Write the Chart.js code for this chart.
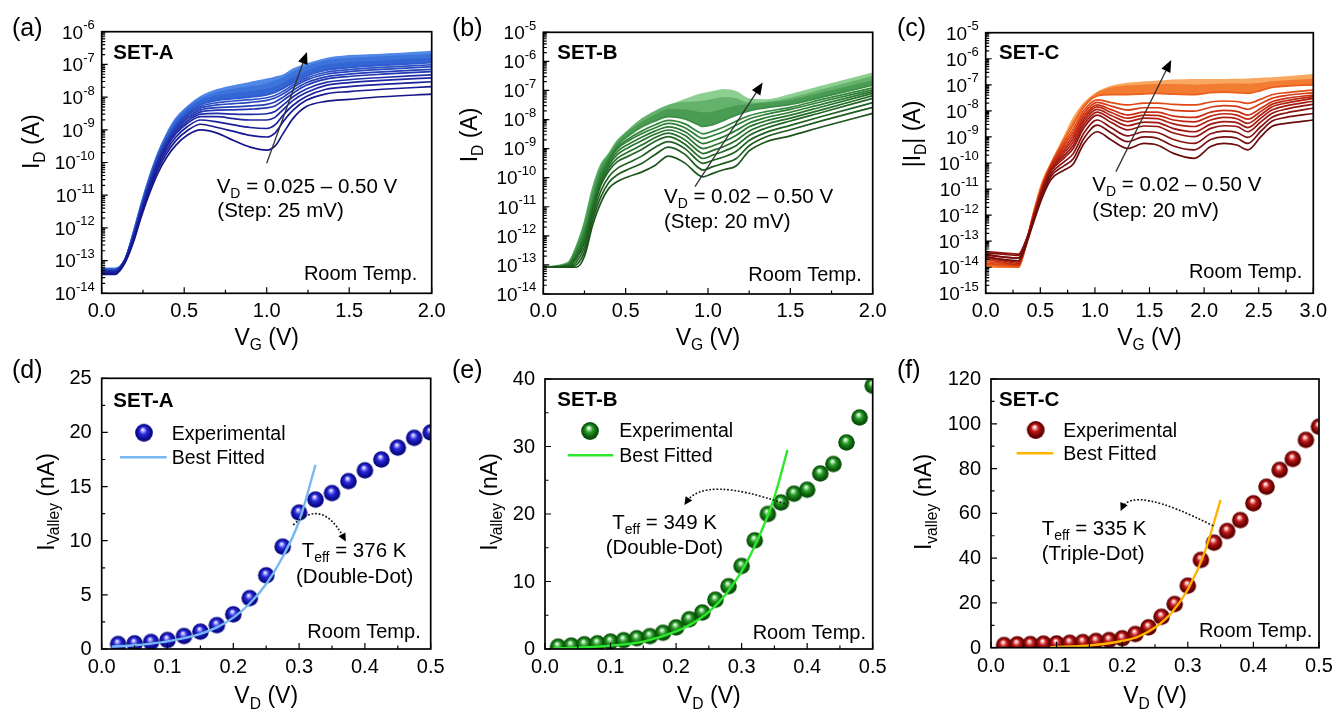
<!DOCTYPE html>
<html><head><meta charset="utf-8">
<script src="https://cdn.jsdelivr.net/npm/chart.js@4.4.1/dist/chart.umd.min.js"></script>
<style>
html,body{margin:0;padding:0;background:#fff;width:1333px;height:709px;overflow:hidden}
canvas{position:absolute;display:block;left:0;top:0}
</style></head><body>
<script>
// ===================== DATA =====================
// ---- (a) SET-A : log10(I_D / A) vs V_G, one array per V_D ----
const VG_A = [0,0.08,0.14,0.19,0.24,0.29,0.34,0.39,0.45,0.52,0.6,0.7,0.8,0.9,1.0,1.05,1.1,1.16,1.24,1.36,1.5,1.7,2.0];
const VD_A = [0.025,0.05,0.075,0.1,0.125,0.15,0.175,0.2,0.225,0.25,0.325,0.4,0.5];
const A_025 = [-13.42,-13.42,-13.08,-12.47,-11.66,-10.94,-10.33,-9.87,-9.47,-9.16,-9.0,-9.1,-9.33,-9.53,-9.62,-9.5,-9.11,-8.65,-8.29,-8.13,-8.07,-7.99,-7.91];
const A_050 = [-13.38,-13.38,-13.05,-12.42,-11.6,-10.85,-10.22,-9.75,-9.33,-9.02,-8.83,-8.93,-9.05,-9.17,-9.22,-9.1,-8.75,-8.4,-8.1,-7.9,-7.83,-7.76,-7.68];
const A_075 = [-13.36,-13.36,-13.02,-12.38,-11.55,-10.78,-10.13,-9.65,-9.22,-8.9,-8.7,-8.76,-8.85,-8.93,-8.96,-8.85,-8.55,-8.25,-7.98,-7.76,-7.68,-7.61,-7.53];
const A_100 = [-13.35,-13.35,-13.0,-12.35,-11.5,-10.72,-10.05,-9.56,-9.12,-8.8,-8.6,-8.6,-8.66,-8.7,-8.7,-8.62,-8.38,-8.1,-7.86,-7.64,-7.56,-7.49,-7.41];
const A_125 = [-13.34,-13.34,-13.0,-12.33,-11.47,-10.68,-10.0,-9.5,-9.06,-8.73,-8.52,-8.5,-8.52,-8.53,-8.51,-8.44,-8.24,-7.99,-7.75,-7.55,-7.47,-7.4,-7.32];
const A_150 = [-13.32,-13.32,-12.99,-12.3,-11.43,-10.63,-9.95,-9.45,-9.0,-8.66,-8.45,-8.4,-8.39,-8.37,-8.33,-8.27,-8.1,-7.88,-7.64,-7.45,-7.37,-7.3,-7.22];
const A_175 = [-13.31,-13.31,-12.98,-12.28,-11.4,-10.6,-9.91,-9.4,-8.95,-8.6,-8.39,-8.32,-8.3,-8.27,-8.22,-8.15,-8.0,-7.79,-7.56,-7.38,-7.3,-7.23,-7.15];
const A_200 = [-13.3,-13.3,-12.98,-12.26,-11.37,-10.57,-9.88,-9.36,-8.9,-8.54,-8.33,-8.24,-8.2,-8.16,-8.1,-8.03,-7.9,-7.7,-7.48,-7.3,-7.22,-7.15,-7.07];
const A_225 = [-13.29,-13.29,-12.98,-12.25,-11.35,-10.55,-9.86,-9.33,-8.87,-8.5,-8.28,-8.17,-8.12,-8.08,-8.02,-7.95,-7.82,-7.63,-7.42,-7.24,-7.16,-7.09,-7.01];
const A_250 = [-13.28,-13.28,-12.98,-12.23,-11.33,-10.52,-9.83,-9.3,-8.83,-8.46,-8.23,-8.1,-8.05,-8.0,-7.93,-7.86,-7.74,-7.56,-7.36,-7.18,-7.1,-7.03,-6.95];
const A_325 = [-13.26,-13.26,-12.98,-12.2,-11.3,-10.48,-9.78,-9.23,-8.75,-8.38,-8.12,-7.97,-7.9,-7.84,-7.77,-7.7,-7.58,-7.41,-7.23,-7.03,-6.96,-6.9,-6.82];
const A_400 = [-13.25,-13.25,-12.98,-12.18,-11.27,-10.45,-9.75,-9.2,-8.7,-8.33,-8.05,-7.87,-7.77,-7.7,-7.61,-7.52,-7.42,-7.25,-7.08,-6.9,-6.83,-6.78,-6.71];
const A_500 = [-13.24,-13.24,-12.98,-12.17,-11.25,-10.43,-9.72,-9.16,-8.65,-8.29,-7.99,-7.78,-7.66,-7.56,-7.46,-7.4,-7.33,-7.15,-7.0,-6.83,-6.74,-6.7,-6.61];

// ---- (b) SET-B ----
const VG_B = [0,0.15,0.2,0.25,0.3,0.35,0.4,0.45,0.52,0.6,0.68,0.76,0.86,0.94,0.97,1.03,1.1,1.17,1.25,1.35,1.5,1.7,2.0];
const VD_B = [0.02,0.04,0.06,0.08,0.10,0.12,0.14,0.16,0.18,0.22,0.3,0.4,0.5];
const B_02 = [-13.08,-13.08,-13.08,-12.7,-11.62,-10.85,-10.35,-10.13,-9.96,-9.8,-9.57,-9.26,-9.5,-9.9,-9.97,-9.85,-9.72,-9.6,-9.08,-8.77,-8.56,-8.24,-7.79];
const B_04 = [-13.08,-13.08,-13.0,-12.55,-11.45,-10.65,-10.15,-9.9,-9.7,-9.5,-9.2,-8.95,-9.2,-9.65,-9.74,-9.62,-9.5,-9.35,-8.9,-8.6,-8.35,-8.03,-7.58];
const B_06 = [-13.08,-13.06,-12.9,-12.4,-11.3,-10.45,-9.95,-9.68,-9.48,-9.25,-8.95,-8.76,-9.0,-9.42,-9.51,-9.4,-9.28,-9.1,-8.72,-8.45,-8.2,-7.88,-7.42];
const B_08 = [-13.08,-13.04,-12.8,-12.25,-11.15,-10.25,-9.75,-9.45,-9.25,-9.02,-8.75,-8.59,-8.85,-9.25,-9.34,-9.22,-9.08,-8.9,-8.55,-8.3,-8.05,-7.74,-7.27];
const B_10 = [-13.08,-13.03,-12.75,-12.18,-11.1,-10.18,-9.65,-9.33,-9.1,-8.87,-8.62,-8.47,-8.7,-9.08,-9.17,-9.06,-8.92,-8.72,-8.4,-8.17,-7.95,-7.65,-7.18];
const B_12 = [-13.08,-13.02,-12.7,-12.1,-11.05,-10.1,-9.55,-9.2,-8.95,-8.72,-8.5,-8.36,-8.55,-8.92,-9.0,-8.9,-8.75,-8.55,-8.25,-8.05,-7.85,-7.55,-7.1];
const B_14 = [-13.08,-13.01,-12.65,-12.03,-10.98,-10.02,-9.48,-9.1,-8.84,-8.6,-8.39,-8.25,-8.42,-8.75,-8.83,-8.73,-8.58,-8.38,-8.12,-7.94,-7.75,-7.46,-7.04];
const B_16 = [-13.08,-13.0,-12.6,-11.95,-10.9,-9.95,-9.4,-9.0,-8.72,-8.48,-8.28,-8.13,-8.28,-8.58,-8.65,-8.55,-8.4,-8.2,-7.98,-7.82,-7.65,-7.37,-6.98];
const B_18 = [-13.08,-12.99,-12.56,-11.89,-10.84,-9.89,-9.36,-8.95,-8.65,-8.39,-8.18,-8.03,-8.15,-8.42,-8.49,-8.4,-8.25,-8.06,-7.87,-7.73,-7.58,-7.3,-6.91];
const B_22 = [-13.08,-12.98,-12.5,-11.8,-10.75,-9.8,-9.3,-8.88,-8.55,-8.25,-8.05,-7.9,-7.98,-8.18,-8.24,-8.18,-8.02,-7.85,-7.7,-7.6,-7.48,-7.22,-6.82];
const B_30 = [-13.08,-12.95,-12.4,-11.6,-10.5,-9.65,-9.22,-8.8,-8.42,-8.1,-7.86,-7.67,-7.68,-7.76,-7.79,-7.75,-7.65,-7.55,-7.5,-7.45,-7.35,-7.08,-6.68];
const B_40 = [-13.08,-12.92,-12.38,-11.52,-10.35,-9.55,-9.18,-8.75,-8.36,-7.98,-7.72,-7.52,-7.42,-7.4,-7.38,-7.32,-7.25,-7.3,-7.45,-7.42,-7.28,-6.98,-6.53];
const B_50 = [-13.08,-12.95,-12.45,-11.6,-10.65,-9.7,-9.16,-8.72,-8.4,-8.1,-7.8,-7.55,-7.32,-7.16,-7.12,-7.05,-6.98,-7.05,-7.3,-7.33,-7.15,-6.85,-6.41];

// ---- (c) SET-C ----
const VG_C = [0,0.15,0.3,0.34,0.44,0.52,0.6,0.72,0.8,0.9,1.02,1.15,1.3,1.45,1.57,1.72,1.91,2.06,2.18,2.3,2.4,2.52,2.62,2.75,3.0];
const VD_C = [0.02,0.04,0.06,0.08,0.10,0.12,0.14,0.16,0.19,0.22,0.3,0.4,0.5];
const C_02 = [-13.6,-13.7,-13.75,-13.5,-12.25,-11.3,-10.62,-10.27,-10.05,-9.25,-8.8,-9.12,-9.44,-9.25,-9.31,-9.63,-9.82,-9.37,-9.25,-9.31,-9.5,-8.99,-8.6,-8.48,-8.35];
const C_04 = [-13.5,-13.6,-13.65,-13.4,-12.2,-11.2,-10.5,-10.1,-9.85,-9.05,-8.55,-8.85,-9.18,-9.0,-9.05,-9.35,-9.5,-9.1,-9.0,-9.05,-9.25,-8.78,-8.4,-8.25,-8.1];
const C_06 = [-13.45,-13.5,-13.55,-13.3,-12.15,-11.1,-10.4,-9.95,-9.65,-8.85,-8.35,-8.65,-8.96,-8.8,-8.83,-9.1,-9.25,-8.88,-8.78,-8.83,-9.02,-8.6,-8.25,-8.08,-7.9];
const C_08 = [-13.4,-13.45,-13.5,-13.25,-12.1,-11.0,-10.3,-9.8,-9.45,-8.65,-8.16,-8.45,-8.73,-8.58,-8.6,-8.85,-8.99,-8.67,-8.57,-8.6,-8.8,-8.42,-8.1,-7.93,-7.74];
const C_10 = [-13.55,-13.6,-13.65,-13.35,-12.08,-10.98,-10.25,-9.7,-9.33,-8.52,-8.05,-8.31,-8.57,-8.43,-8.45,-8.68,-8.8,-8.51,-8.41,-8.45,-8.64,-8.28,-7.97,-7.81,-7.63];
const C_12 = [-13.6,-13.7,-13.8,-13.4,-12.05,-10.95,-10.2,-9.6,-9.2,-8.4,-7.94,-8.18,-8.41,-8.28,-8.3,-8.5,-8.6,-8.35,-8.25,-8.3,-8.48,-8.15,-7.85,-7.7,-7.52];
const C_14 = [-13.65,-13.75,-13.85,-13.45,-12.02,-10.92,-10.15,-9.5,-9.07,-8.3,-7.85,-8.06,-8.28,-8.16,-8.17,-8.35,-8.42,-8.2,-8.11,-8.16,-8.32,-8.02,-7.75,-7.61,-7.45];
const C_16 = [-13.7,-13.8,-13.9,-13.5,-12.0,-10.9,-10.1,-9.4,-8.95,-8.2,-7.77,-7.95,-8.16,-8.05,-8.05,-8.2,-8.25,-8.05,-7.98,-8.02,-8.16,-7.9,-7.65,-7.52,-7.39];
const C_19 = [-13.78,-13.85,-13.92,-13.52,-11.98,-10.88,-10.08,-9.3,-8.83,-8.09,-7.67,-7.82,-7.97,-7.88,-7.88,-7.98,-8.01,-7.86,-7.8,-7.83,-7.94,-7.72,-7.52,-7.41,-7.3];
const C_22 = [-13.85,-13.9,-13.95,-13.55,-11.95,-10.85,-10.05,-9.2,-8.7,-7.98,-7.58,-7.68,-7.77,-7.7,-7.7,-7.75,-7.77,-7.66,-7.62,-7.64,-7.71,-7.55,-7.38,-7.3,-7.2];
const C_30 = [-13.9,-13.95,-14.0,-13.6,-11.9,-10.8,-10.02,-9.1,-8.55,-7.85,-7.43,-7.38,-7.38,-7.35,-7.33,-7.36,-7.38,-7.3,-7.28,-7.3,-7.33,-7.22,-7.1,-7.05,-7.0];
const C_40 = [-13.95,-14.0,-14.0,-13.6,-11.88,-10.75,-10.01,-9.05,-8.45,-7.78,-7.33,-7.13,-7.05,-7.02,-7.0,-7.0,-7.02,-7.0,-6.98,-6.98,-6.99,-6.95,-6.9,-6.86,-6.8];
const C_50 = [-14.0,-14.0,-14.0,-13.6,-11.86,-10.7,-10.0,-8.99,-8.3,-7.71,-7.3,-7.07,-6.95,-6.9,-6.87,-6.83,-6.81,-6.81,-6.81,-6.8,-6.79,-6.76,-6.74,-6.7,-6.62];

// ---- (d) SET-A valley current (nA) ----
const VD_D = [0.025,0.05,0.075,0.1,0.125,0.15,0.175,0.2,0.225,0.25,0.275,0.3,0.325,0.35,0.375,0.4,0.425,0.45,0.475,0.5];
const IV_D = [0.46,0.52,0.65,0.83,1.2,1.6,2.2,3.2,4.7,6.8,9.45,12.6,13.8,14.4,15.5,16.5,17.5,18.6,19.5,20.0];
const FIT_D_X = [0.015,0.05,0.075,0.1,0.125,0.15,0.175,0.2,0.225,0.25,0.275,0.3,0.325];
const FIT_D_Y = [0.22,0.35,0.5,0.7,1.0,1.4,2.0,2.9,4.2,6.0,8.5,11.8,17.0];

// ---- (e) SET-B ----
const VD_E = [0.02,0.04,0.06,0.08,0.1,0.12,0.14,0.16,0.18,0.2,0.22,0.24,0.26,0.28,0.3,0.32,0.34,0.36,0.38,0.4,0.42,0.44,0.46,0.48,0.5];
const IV_E = [0.35,0.5,0.7,0.85,1.1,1.3,1.6,1.9,2.4,3.2,4.4,5.4,7.3,9.3,12.3,16.1,20.0,21.7,23.0,23.6,26.0,27.4,30.6,34.3,39.0];
const FIT_E_X = [0.013,0.05,0.1,0.15,0.2,0.225,0.25,0.275,0.3,0.325,0.35,0.37];
const FIT_E_Y = [0.08,0.2,0.5,1.1,2.6,3.8,5.5,8.0,11.5,16.3,22.5,29.5];

// ---- (f) SET-C ----
const VD_F = [0.02,0.04,0.06,0.08,0.1,0.12,0.14,0.16,0.18,0.2,0.22,0.24,0.26,0.28,0.3,0.32,0.34,0.36,0.38,0.4,0.42,0.44,0.46,0.48,0.5];
const IV_F = [1.2,1.5,1.6,1.8,1.9,2.2,2.5,3.0,3.4,4.2,6.1,9.1,13.8,19.5,27.7,39.2,46.9,52.1,57.0,64.5,71.9,79.4,84.3,92.8,98.7];
const FIT_F_X = [0.09,0.15,0.2,0.225,0.25,0.275,0.3,0.325,0.35];
const FIT_F_Y = [0.25,1.0,3.0,5.0,9.0,15.5,26.0,42.0,66.0];

// ---- tick labels ----
const XT_AB = [0,0.5,1.0,1.5,2.0];
const XT_C = [0,0.5,1.0,1.5,2.0,2.5,3.0];
const YEXP_A = [-14,-13,-12,-11,-10,-9,-8,-7,-6];
const YEXP_B = [-14,-13,-12,-11,-10,-9,-8,-7,-6,-5];
const YEXP_C = [-15,-14,-13,-12,-11,-10,-9,-8,-7,-6,-5];
const XT_BOT = [0,0.1,0.2,0.3,0.4,0.5];
const YT_D = [0,5,10,15,20,25];
const YT_E = [0,10,20,30,40];
const YT_F = [0,20,40,60,80,100,120];

// ===================== RENDERING =====================
const W = 1333, H = 709;
const FONT = '"Liberation Sans", Arial, Helvetica, sans-serif';
const decorFns = new Map();
const decorPlugin = { id:'panelDecor', afterDraw(chart){ const f = decorFns.get(chart.canvas.id); if (f) f(chart); } };

function makeCanvas(id){
  const c = document.createElement('canvas');
  c.id = id; c.width = W; c.height = H;
  c.style.width = W+'px'; c.style.height = H+'px';
  document.body.appendChild(c); return c;
}
function rich(ctx, x, y, parts, size, align, weight, subScale){
  const ss = subScale || 0.68;
  const f = s => (weight||'normal')+' '+s+'px '+FONT;
  let total = 0;
  const segs = parts.map(p => { const m = p[1]||''; const s = m ? size*ss : size; ctx.font = f(s); const w = ctx.measureText(p[0]).width; total += w; return {t:p[0], m, s, w}; });
  let cx = align==='center' ? x-total/2 : align==='right' ? x-total : x;
  ctx.textAlign = 'left'; ctx.textBaseline = 'alphabetic';
  for (const g of segs){ ctx.font = f(g.s); const dy = g.m==='sub' ? size*0.24 : g.m==='sup' ? -size*0.5 : 0; ctx.fillText(g.t, cx, y+dy); cx += g.w; }
}
function richRot(ctx, x, y, parts, size){
  ctx.save(); ctx.translate(x, y); ctx.rotate(-Math.PI/2); rich(ctx, 0, 0, parts, size, 'center'); ctx.restore();
}
function mids(arr){ const o=[]; for(let i=0;i<arr.length-1;i++) o.push((arr[i]+arr[i+1])/2); return o; }
function pad(A){ return {left:A[0], top:A[1], right:W-A[2], bottom:H-A[3]}; }

function frameTicks(chart, xMaj, yMaj, yMinor){
  const ctx = chart.ctx, ca = chart.chartArea, xs = chart.scales.x, ys = chart.scales.y;
  ctx.save(); ctx.strokeStyle = '#000'; ctx.lineWidth = 1.2; ctx.beginPath();
  for (const v of xMaj){ const p = xs.getPixelForValue(v); ctx.moveTo(p, ca.bottom); ctx.lineTo(p, ca.bottom-6); }
  for (const v of mids(xMaj)){ const p = xs.getPixelForValue(v); ctx.moveTo(p, ca.bottom); ctx.lineTo(p, ca.bottom-3.5); }
  for (const v of yMaj){ const p = ys.getPixelForValue(v); ctx.moveTo(ca.left, p); ctx.lineTo(ca.left+6, p); }
  for (const v of yMinor){ const p = ys.getPixelForValue(v); ctx.moveTo(ca.left, p); ctx.lineTo(ca.left+3.5, p); }
  ctx.stroke();
  ctx.lineWidth = 1.7; ctx.strokeRect(ca.left, ca.top, ca.right-ca.left, ca.bottom-ca.top);
  ctx.restore();
}
function arrowHead(ctx, x1, y1, x2, y2, len, hw){
  const a = Math.atan2(y2-y1, x2-x1);
  ctx.beginPath(); ctx.moveTo(x2, y2);
  ctx.lineTo(x2 - len*Math.cos(a) + hw*Math.sin(a), y2 - len*Math.sin(a) - hw*Math.cos(a));
  ctx.lineTo(x2 - len*Math.cos(a) - hw*Math.sin(a), y2 - len*Math.sin(a) + hw*Math.cos(a));
  ctx.closePath(); ctx.fill();
}

// ---------- top (log) panels ----------
function topPanel(p){
  const cv = makeCanvas(p.id);
  const datasets = p.curves.map((c, i) => ({
    data: p.vg.map((x, j) => ({x, y: Math.pow(10, c[j])})),
    borderColor: p.colors[i], backgroundColor: p.colors[i],
    borderWidth: 1.7, pointRadius: 0, cubicInterpolationMode: 'monotone',
    fill: i >= p.fillFrom ? '-1' : false, clip: 0
  }));
  const yMaj = p.yexp.map(e => Math.pow(10, e));
  const yMin = [];
  for (let k=0; k<p.yexp.length-1; k++) for (let m=2; m<10; m++) yMin.push(m*Math.pow(10, p.yexp[k]));
  decorFns.set(p.id, chart => {
    const ctx = chart.ctx, ca = chart.chartArea, xs = chart.scales.x, ys = chart.scales.y;
    frameTicks(chart, p.xt, yMaj, yMin);
    ctx.save(); ctx.fillStyle = '#000';
    for (const e of p.yexp){
      const py = ys.getPixelForValue(Math.pow(10, e));
      ctx.font = '13px '+FONT; const ew = ctx.measureText(String(e)).width;
      ctx.font = '19px '+FONT; const bw = ctx.measureText('10').width;
      const xr = ca.left - 7;
      ctx.textAlign = 'left'; ctx.textBaseline = 'alphabetic';
      ctx.fillText('10', xr-ew-bw, py+6.8);
      ctx.font = '13px '+FONT; ctx.fillText(String(e), xr-ew, py-2.6);
    }
    ctx.font = '20px '+FONT; ctx.textAlign = 'center';
    for (const v of p.xt) ctx.fillText(v.toFixed(1), xs.getPixelForValue(v), ca.bottom+23.4);
    rich(ctx, (ca.left+ca.right)/2, 344.8, [['V'],['G','sub'],[' (V)']], 23, 'center');
    richRot(ctx, p.yTitle[0], p.yTitle[1], p.yTitleParts, 23);
    ctx.font = '25px '+FONT; ctx.textAlign = 'left'; ctx.fillText(p.label, p.labelX, 36);
    ctx.font = 'bold 20.5px '+FONT; ctx.fillText(p.set, ca.left+p.setPos[0], ca.top+p.setPos[1]);
    rich(ctx, ca.left+p.vdPos[0], ca.top+p.vdPos[1], [['V'],['D','sub'],[' = '+p.vdText]], 20.5, 'left');
    ctx.font = '20.5px '+FONT; ctx.textAlign = 'left'; ctx.fillText(p.step, ca.left+p.stepPos[0], ca.top+p.stepPos[1]);
    ctx.font = '20px '+FONT; ctx.textAlign = 'right'; ctx.fillText('Room Temp.', ca.right-p.room[0], ca.top+p.room[1]);
    const x1 = xs.getPixelForValue(p.arrow[0]), y1 = ys.getPixelForValue(Math.pow(10,p.arrow[1]));
    const x2 = xs.getPixelForValue(p.arrow[2]), y2 = ys.getPixelForValue(Math.pow(10,p.arrow[3]));
    ctx.strokeStyle = '#333'; ctx.lineWidth = 1.3; ctx.beginPath();
    const a = Math.atan2(y2-y1, x2-x1);
    ctx.moveTo(x1, y1); ctx.lineTo(x2-8*Math.cos(a), y2-8*Math.sin(a)); ctx.stroke();
    ctx.fillStyle = '#000'; arrowHead(ctx, x1, y1, x2, y2, 12, 5);
    ctx.restore();
  });
  new Chart(cv, {
    type: 'line', data: {datasets},
    options: {
      responsive: false, animation: false, devicePixelRatio: 1, events: [],
      layout: {padding: pad(p.area)},
      scales: {
        x: {type:'linear', min:0, max:p.xt[p.xt.length-1], display:false},
        y: {type:'logarithmic', min:Math.pow(10,p.yexp[0]), max:Math.pow(10,p.yexp[p.yexp.length-1]), display:false}
      },
      plugins: {legend:{display:false}, tooltip:{enabled:false}}
    },
    plugins: [decorPlugin]
  });
}

// ---------- sphere markers ----------
function sphere(r, hi, mid, rim){
  const s = Math.ceil(2*r+2), c = document.createElement('canvas'); c.width = s; c.height = s;
  const g = c.getContext('2d'), cx = s/2, cy = s/2;
  const gr = g.createRadialGradient(cx-0.15*r, cy-0.38*r, 0, cx, cy, r);
  gr.addColorStop(0, '#ffffff'); gr.addColorStop(0.13, hi); gr.addColorStop(0.42, mid); gr.addColorStop(0.82, rim); gr.addColorStop(1, rim);
  g.fillStyle = gr; g.beginPath(); g.arc(cx, cy, r, 0, Math.PI*2); g.fill();
  return c;
}

// ---------- bottom (linear) panels ----------
function botPanel(p){
  const cv = makeCanvas(p.id);
  const pt = sphere(8.3, p.sph[0], p.sph[1], p.sph[2]);
  const ptL = sphere(8.9, p.sph[0], p.sph[1], p.sph[2]);
  const datasets = [
    { data: p.fx.map((x,i)=>({x, y:p.fy[i]})), borderColor: p.fitColor, borderWidth: 2.4, pointRadius: 0, cubicInterpolationMode:'monotone', fill:false, clip:0 },
    { data: p.x.map((x,i)=>({x, y:p.y[i]})), showLine: false, pointStyle: pt, pointRadius: 8, clip: 0 }
  ];
  const yMin = mids(p.yt);
  decorFns.set(p.id, chart => {
    const ctx = chart.ctx, ca = chart.chartArea, xs = chart.scales.x, ys = chart.scales.y;
    frameTicks(chart, XT_BOT, p.yt, yMin);
    ctx.save(); ctx.fillStyle = '#000';
    ctx.font = '20px '+FONT; ctx.textAlign = 'right'; ctx.textBaseline = 'middle';
    for (const v of p.yt) ctx.fillText(String(v), ca.left-10, ys.getPixelForValue(v)+0.5);
    ctx.textAlign = 'center'; ctx.textBaseline = 'alphabetic';
    for (const v of XT_BOT) ctx.fillText(v.toFixed(1), xs.getPixelForValue(v), ca.bottom+24);
    rich(ctx, (ca.left+ca.right)/2, 703.2, [['V'],['D','sub'],[' (V)']], 23, 'center');
    richRot(ctx, p.yTitle[0], 502, [['I'],[p.sub,'sub'],[' (nA)']], 23);
    ctx.font = '25px '+FONT; ctx.textAlign = 'left'; ctx.fillText(p.label, p.labelX, 378);
    ctx.font = 'bold 20.5px '+FONT; ctx.fillText(p.set, ca.left+p.setPos[0], ca.top+p.setPos[1]);
    ctx.drawImage(ptL, ca.left+p.leg[0]-ptL.width/2, ca.top+p.leg[1]-ptL.height/2);
    ctx.font = '19.5px '+FONT; ctx.fillStyle = '#000';
    ctx.fillText('Experimental', ca.left+p.leg[2], ca.top+p.leg[3]);
    ctx.strokeStyle = p.fitColor; ctx.lineWidth = 2.6; ctx.beginPath();
    ctx.moveTo(ca.left+p.leg[4], ca.top+p.leg[6]); ctx.lineTo(ca.left+p.leg[5], ca.top+p.leg[6]); ctx.stroke();
    ctx.fillText('Best Fitted', ca.left+p.leg[2], ca.top+p.leg[7]);
    rich(ctx, ca.left+p.teff[0], ca.top+p.teff[1], [['T'],['eff','sub'],[' = '+p.teffText]], 20.5, 'left');
    ctx.font = '20.5px '+FONT; ctx.textAlign = 'left'; ctx.fillText(p.dot, ca.left+p.dotPos[0], ca.top+p.dotPos[1]);
    ctx.font = '20px '+FONT; ctx.textAlign = 'right'; ctx.fillText('Room Temp.', ca.right-p.room[0], ca.top+p.room[1]);
    const P = (i) => [xs.getPixelForValue(p.darrow[i]), ys.getPixelForValue(p.darrow[i+1])];
    const s0 = P(0), c0 = P(2), e0 = P(4);
    ctx.strokeStyle = '#111'; ctx.lineWidth = 1.6; ctx.setLineDash([1.8, 1.8]);
    ctx.beginPath(); ctx.moveTo(s0[0], s0[1]); ctx.quadraticCurveTo(c0[0], c0[1], e0[0], e0[1]); ctx.stroke();
    ctx.setLineDash([]); ctx.fillStyle = '#000';
    arrowHead(ctx, c0[0], c0[1], e0[0]+ (e0[0]-c0[0])*0.12, e0[1]+(e0[1]-c0[1])*0.12, 8, 4);
    ctx.restore();
  });
  new Chart(cv, {
    type: 'line', data: {datasets},
    options: {
      responsive: false, animation: false, devicePixelRatio: 1, events: [],
      layout: {padding: pad(p.area)},
      scales: {
        x: {type:'linear', min:0, max:0.5, display:false},
        y: {type:'linear', min:0, max:p.yt[p.yt.length-1], display:false}
      },
      plugins: {legend:{display:false}, tooltip:{enabled:false}}
    },
    plugins: [decorPlugin]
  });
}

topPanel({ id:'pa', area:[101.7,31.7,431.7,293.3], vg:VG_A,
  curves:[A_025,A_050,A_075,A_100,A_125,A_150,A_175,A_200,A_225,A_250,A_325,A_400,A_500],
  colors:['#15158c','#171a92','#1a2099','#1c27a1','#1e2ea9','#2136b0','#243eb8','#2747bf','#2a50c6','#2d5acc','#3366d4','#3c74dc','#5088e6'],
  fillFrom:10, xt:XT_AB, yexp:YEXP_A, yTitle:[39,141.7], yTitleParts:[['I'],['D','sub'],[' (A)']],
  label:'(a)', labelX:12, set:'SET-A', setPos:[11.6,27.6], vdText:'0.025 – 0.50 V', vdPos:[115,161],
  step:'(Step: 25 mV)', stepPos:[115.6,185], room:[14.4,248.3], arrow:[1.0,-10.02,1.244,-6.62] });

topPanel({ id:'pb', area:[543.3,32.3,872.7,294], vg:VG_B,
  curves:[B_02,B_04,B_06,B_08,B_10,B_12,B_14,B_16,B_18,B_22,B_30,B_40,B_50],
  colors:['#1b551b','#1d5b1e','#1f6121','#226725','#246d28','#27742c','#2a7a31','#2e8036','#33873c','#3c9045','#4a9c54','#64b26c','#8ccf90'],
  fillFrom:10, xt:XT_AB, yexp:YEXP_B, yTitle:[477,135], yTitleParts:[['I'],['D','sub'],[' (A)']],
  label:'(b)', labelX:452, set:'SET-B', setPos:[14,27], vdText:'0.02 – 0.50 V', vdPos:[120.7,170.4],
  step:'(Step: 20 mV)', stepPos:[120.7,196], room:[11,248.4], arrow:[0.921,-10.31,1.332,-6.73] });

topPanel({ id:'pc', area:[985.7,32.7,1313.3,293.3], vg:VG_C,
  curves:[C_02,C_04,C_06,C_08,C_10,C_12,C_14,C_16,C_19,C_22,C_30,C_40,C_50],
  colors:['#6a0c0c','#780e0e','#861110','#931410','#a01810','#ae1e10','#bc2610','#c92e11','#d63a12','#e24a15','#ec5e1e','#f27c32','#f8a860'],
  fillFrom:11, xt:XT_C, yexp:YEXP_C, yTitle:[920,134], yTitleParts:[['|I'],['D','sub'],['| (A)']],
  label:'(c)', labelX:897, set:'SET-C', setPos:[13.3,26.6], vdText:'0.02 – 0.50 V', vdPos:[106.6,158],
  step:'(Step: 20 mV)', stepPos:[106.6,184], room:[11,245.6], arrow:[1.193,-10.33,1.699,-6.05] });

botPanel({ id:'pd', area:[101.7,378.3,430.7,649], x:VD_D, y:IV_D, fx:FIT_D_X, fy:FIT_D_Y,
  yt:YT_D, fitColor:'#78b8f2', sph:['#c8c8ff','#2a2ae0','#0a0a88'], sub:'Valley', yTitle:[53.5],
  label:'(d)', labelX:12, set:'SET-A', setPos:[11.6,28.4], leg:[42.3,54.4,70,61.7,18.3,65,79,86],
  teff:[200,179], teffText:'376 K', dot:'(Double-Dot)', dotPos:[194.3,205], room:[10,260],
  darrow:[0.291,11.45,0.334,14.0,0.367,10.37] });

botPanel({ id:'pe', area:[545,379,872.7,649], x:VD_E, y:IV_E, fx:FIT_E_X, fy:FIT_E_Y,
  yt:YT_E, fitColor:'#2ee82e', sph:['#c8f0c8','#249a24','#0a520a'], sub:'Valley', yTitle:[496.5],
  label:'(e)', labelX:452, set:'SET-B', setPos:[12.3,27], leg:[45,52,74.3,58.3,22.7,68.3,76.3,83],
  teff:[67.3,150.3], teffText:'349 K', dot:'(Double-Dot)', dotPos:[60.7,175], room:[6.7,260.3],
  darrow:[0.366,21.5,0.243,25.7,0.216,21.8] });

botPanel({ id:'pf', area:[991,379,1319,647.7], x:VD_F, y:IV_F, fx:FIT_F_X, fy:FIT_F_Y,
  yt:YT_F, fitColor:'#ffb400', sph:['#ffd0d0','#c01818','#640000'], sub:'valley', yTitle:[931],
  label:'(f)', labelX:897, set:'SET-C', setPos:[8,27], leg:[44.7,51,72.3,57.7,25.7,62.3,74.3,81],
  teff:[50.7,156], teffText:'335 K', dot:'(Triple-Dot)', dotPos:[50.7,181], room:[6.7,258.3],
  darrow:[0.339,54.4,0.2157,72.7,0.1996,62.3] });
</script>
</body></html>
